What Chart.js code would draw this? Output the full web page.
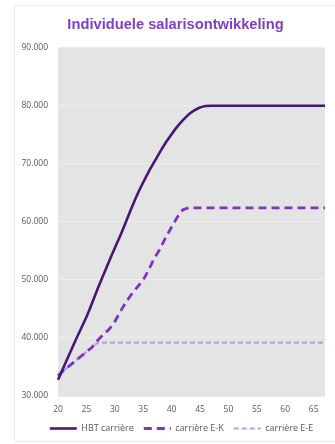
<!DOCTYPE html>
<html>
<head>
<meta charset="utf-8">
<script src="https://cdn.jsdelivr.net/npm/chart.js@4/dist/chart.umd.min.js"></script>
<style>
  html, body { margin: 0; padding: 0; background: #ffffff; }
  canvas { display: block; }
</style>
</head>
<body>
<canvas id="chart" width="335" height="444"></canvas>
<script>
// Ages on the horizontal axis (one point per year)
const ages = [20, 21, 22, 23, 24, 25, 26, 27, 28, 29,
              30, 31, 32, 33, 34, 35, 36, 37, 38, 39,
              40, 41, 42, 43, 44, 45, 46, 47, 48, 49,
              50, 51, 52, 53, 54, 55, 56, 57, 58, 59,
              60, 61, 62, 63, 64, 65, 66, 67];

// Yearly salary per career path (euro)
const hbtCarriere = [32800, 35000, 37200, 39400, 41500, 43600, 46000, 48500, 50900, 53200,
                     55500, 57700, 60100, 62500, 64800, 66800, 68700, 70400, 72100, 73700,
                     75100, 76400, 77500, 78500, 79200, 79700, 79950, 80000, 80000, 80000,
                     80000, 80000, 80000, 80000, 80000, 80000, 80000, 80000, 80000, 80000,
                     80000, 80000, 80000, 80000, 80000, 80000, 80000, 80000];

const carriereEK = [33500, 34400, 35200, 36000, 36800, 37600, 38400, 39600, 40600, 41500,
                    42800, 44600, 46200, 47600, 48800, 50000, 51800, 53800, 55400, 57400,
                    59100, 60800, 62100, 62400, 62400, 62400, 62400, 62400, 62400, 62400,
                    62400, 62400, 62400, 62400, 62400, 62400, 62400, 62400, 62400, 62400,
                    62400, 62400, 62400, 62400, 62400, 62400, 62400, 62400];

const carriereEE = [33500, 34400, 35200, 36000, 36800, 37600, 38400, 39200, 39200, 39200,
                    39200, 39200, 39200, 39200, 39200, 39200, 39200, 39200, 39200, 39200,
                    39200, 39200, 39200, 39200, 39200, 39200, 39200, 39200, 39200, 39200,
                    39200, 39200, 39200, 39200, 39200, 39200, 39200, 39200, 39200, 39200,
                    39200, 39200, 39200, 39200, 39200, 39200, 39200, 39200];

const seriesNames = ['HBT carrière', 'carrière E-K', 'carrière E-E'];
const chartTitle = 'Individuele salarisontwikkeling';

// Value axis range and tick spacing
const yMin = 30000;
const yMax = 90000;
const yStep = 10000;
// Only every fifth age gets a label
const xLabelEvery = 5;

// Dutch thousands separator: 90000 -> "90.000"
function formatEuro(v) {
  return String(v).replace(/\B(?=(\d{3})+(?!\d))/g, '.');
}

// Grey plot area and the thin outer frame
const plotBackground = {
  id: 'plotBackground',
  beforeDraw(chart) {
    const { ctx, chartArea: a } = chart;
    ctx.save();
    ctx.strokeStyle = '#ECECEC';
    ctx.lineWidth = 1;
    ctx.strokeRect(14.5, 5.5, 330, 436);
    ctx.fillStyle = '#E4E4E4';
    ctx.fillRect(a.left, a.top, a.right - a.left, a.bottom - a.top);
    ctx.restore();
  }
};

// Nudge the title and legend boxes sideways / upwards after layout
const boxOffsets = {
  id: 'boxOffsets',
  afterLayout(chart) {
    const t = chart.titleBlock;
    if (t) { t.left += 6; t.right += 6; }
    const l = chart.legend;
    if (l) { l.left += 12; l.right += 12; l.top -= 1; l.bottom -= 1; }
  }
};

// Legend swatches drawn as short lines with each series' own stroke and dash
function lineLegendLabels(chart) {
  const items = Chart.defaults.plugins.legend.labels.generateLabels(chart);
  items.forEach(function (item) {
    const ds = chart.data.datasets[item.datasetIndex];
    item.strokeStyle = ds.borderColor;
    item.fillStyle = ds.borderColor;
    item.lineWidth = ds.borderWidth;
    item.lineDash = ds.borderDash || [];
    item.pointStyle = 'line';
  });
  return items;
}

const tickFont = { family: '"Open Sans", sans-serif', size: 8.5 };
const tickColor = '#595959';

new Chart(document.getElementById('chart'), {
  type: 'line',
  data: {
    labels: ages,
    datasets: [
      {
        label: seriesNames[0],
        data: hbtCarriere,
        borderColor: '#46177A',
        backgroundColor: '#46177A',
        borderWidth: 2.6,
        pointRadius: 0,
        cubicInterpolationMode: 'monotone'
      },
      {
        label: seriesNames[1],
        data: carriereEK,
        borderColor: '#7A35C2',
        backgroundColor: '#7A35C2',
        borderWidth: 2.8,
        borderDash: [8, 5],
        pointRadius: 0,
        tension: 0
      },
      {
        label: seriesNames[2],
        data: carriereEE,
        borderColor: '#B79DEB',
        backgroundColor: '#B79DEB',
        borderWidth: 2.2,
        borderDash: [5, 3],
        pointRadius: 0,
        tension: 0
      }
    ]
  },
  options: {
    responsive: false,
    animation: false,
    layout: { padding: { left: 14, right: 10, top: 0, bottom: 0 } },
    plugins: {
      title: {
        display: true,
        text: chartTitle,
        color: '#8040C0',
        font: { family: '"Liberation Sans", Arial, sans-serif', size: 14.7, weight: 'bold', lineHeight: 1.2 },
        padding: { top: 16, bottom: 14 }
      },
      legend: {
        display: true,
        position: 'bottom',
        maxHeight: 32,
        labels: {
          usePointStyle: true,
          pointStyle: 'line',
          pointStyleWidth: 27,
          padding: 10,
          color: tickColor,
          font: { family: '"Open Sans", sans-serif', size: 9 },
          generateLabels: lineLegendLabels
        }
      },
      tooltip: { enabled: false }
    },
    scales: {
      x: {
        type: 'category',
        offset: false,
        grid: { display: false, drawTicks: false },
        border: { display: false },
        ticks: {
          autoSkip: false,
          maxRotation: 0,
          minRotation: 0,
          padding: 8,
          color: tickColor,
          font: tickFont,
          callback: function (value, index) {
            const age = ages[index];
            return age % xLabelEvery === 0 ? String(age) : '';
          }
        },
        afterFit: function (scale) { scale.height = 19; }
      },
      y: {
        min: yMin,
        max: yMax,
        grid: { color: '#EDEDED', lineWidth: 1, drawTicks: false },
        border: { display: false },
        ticks: {
          stepSize: yStep,
          padding: 10,
          color: tickColor,
          font: tickFont,
          callback: function (value) { return formatEuro(value); }
        },
        afterFit: function (scale) { scale.width = 44; }
      }
    }
  },
  plugins: [plotBackground, boxOffsets]
});
</script>
</body>
</html>
